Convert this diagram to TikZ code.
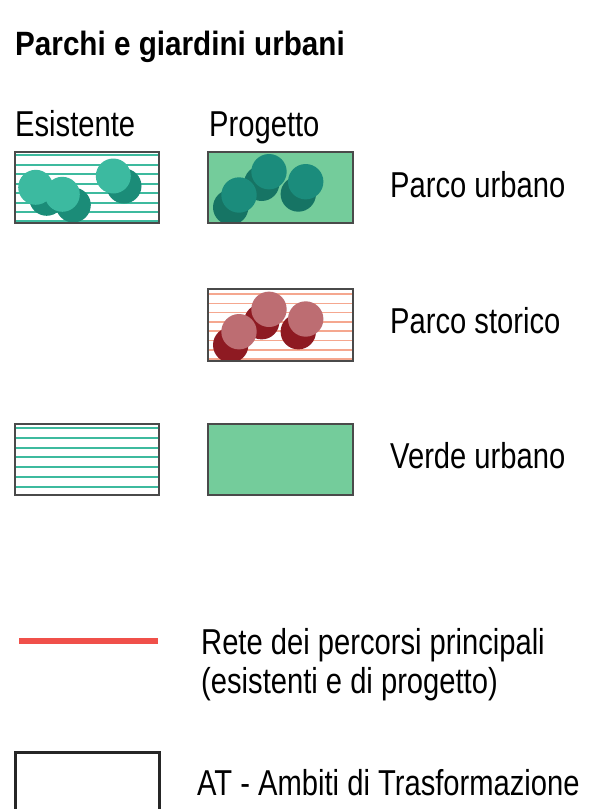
\documentclass[tikz,border=0pt]{standalone}
\usepackage{fontspec}
\setmainfont{Liberation Sans}[FakeStretch=0.81]
\newfontfamily\titlefont{Liberation Sans}[FakeStretch=0.88]
\usepackage{tikz}

\definecolor{frame}{HTML}{4A4A4A}
\definecolor{tealstripe}{HTML}{3DBA9E}
\definecolor{tealdot}{HTML}{3CBAA0}
\definecolor{tealshade}{HTML}{1B8C78}
\definecolor{greenfill}{HTML}{74CC9B}
\definecolor{darkdot}{HTML}{1B8C7C}
\definecolor{darkshade}{HTML}{167464}
\definecolor{salmon}{HTML}{F5A78F}
\definecolor{pinkdot}{HTML}{BD6D72}
\definecolor{redshade}{HTML}{8E1A22}
\definecolor{pathred}{HTML}{F0504A}

\tikzset{
  legendtext/.style={anchor=base west, inner sep=0pt, font=\fontsize{36}{40}\selectfont},
  titletext/.style={anchor=base west, inner sep=0pt, font=\titlefont\fontsize{33.7}{38}\selectfont\bfseries},
  swatch/.style={draw=frame, line width=1.4pt},
}

\begin{document}
\begin{tikzpicture}[x=1pt,y=-1pt]
    \useasboundingbox (0,0) rectangle (597,809);
    % headings
    \node [titletext] (title) at (15,55) {Parchi e giardini urbani};
    \node [legendtext] (esist) at (15,136) {Esistente};
    \node [legendtext] (prog) at (209,136) {Progetto};
    % parco urbano, esistente
    \foreach \y in {155,164.5,174,183.5,193,202.5,212,220.5}
        \draw [tealstripe, line width=2pt] (15,\y) -- (159,\y);
    \begin{scope}
        \clip (15,152) rectangle (159,223);
        \fill [tealshade] (46.7,198.3) circle (17.5);
        \fill [tealdot] (35.7,187.3) circle (17.5);
        \fill [tealshade] (73.3,205) circle (17.5);
        \fill [tealdot] (62.3,194.3) circle (17.5);
        \fill [tealshade] (124,186) circle (17.5);
        \fill [tealdot] (113.3,176) circle (17.5);
    \end{scope}
    \draw [swatch] (15,152) rectangle (159,223);
    % parco urbano, progetto
    \fill [greenfill] (208,152) rectangle (353,223);
    \begin{scope}
        \clip (208,152) rectangle (353,223);
        \fill [darkshade] (230.7,207.3) circle (17.7);
        \fill [darkshade] (261.7,183.3) circle (17.7);
        \fill [darkshade] (298.3,194) circle (17.7);
        \fill [darkdot] (269,171.7) circle (17.7);
        \fill [darkdot] (239,195) circle (17.7);
        \fill [darkdot] (305.7,181.7) circle (17.7);
    \end{scope}
    \draw [swatch] (208,152) rectangle (353,223);
    \node [legendtext] (parco) at (390,197) {Parco urbano};
    % parco storico
    \foreach \y in {294,303.3,312.6,321.9,331.2,340.5,349.8,359}
        \draw [salmon, line width=1.5pt] (208,\y) -- (353,\y);
    \begin{scope}
        \clip (208,289) rectangle (353,361);
        \fill [redshade] (230.7,345) circle (17.7);
        \fill [redshade] (261.7,321.7) circle (17.7);
        \fill [redshade] (298.3,331.7) circle (17.7);
        \fill [pinkdot] (269,309.3) circle (17.7);
        \fill [pinkdot] (239,331.7) circle (17.7);
        \fill [pinkdot] (305.7,319) circle (17.7);
    \end{scope}
    \draw [swatch] (208,289) rectangle (353,361);
    \node [legendtext] (storico) at (390,333) {Parco storico};
    % verde urbano
    \foreach \y in {428,437.8,447.6,457.4,467.2,477,486.8}
        \draw [tealstripe, line width=2pt] (15,\y) -- (159,\y);
    \draw [swatch] (15,424) rectangle (159,495);
    \draw [swatch, fill=greenfill] (208,424) rectangle (353,495);
    \node [legendtext] (verde) at (390,468) {Verde urbano};
    % percorsi
    \draw [pathred, line width=6pt] (19,641) -- (158,641);
    \node [legendtext] (rete) at (201,654) {Rete dei percorsi principali};
    \node [legendtext] (rete2) at (201,693) {(esistenti e di progetto)};
    % ambiti di trasformazione
    \draw [black!85, line width=3pt] (15.5,815) -- (15.5,752.5) -- (159.5,752.5) -- (159.5,815);
    \node [legendtext] (ambiti) at (197,795) {AT - Ambiti di Trasformazione};
\end{tikzpicture}
\end{document}
